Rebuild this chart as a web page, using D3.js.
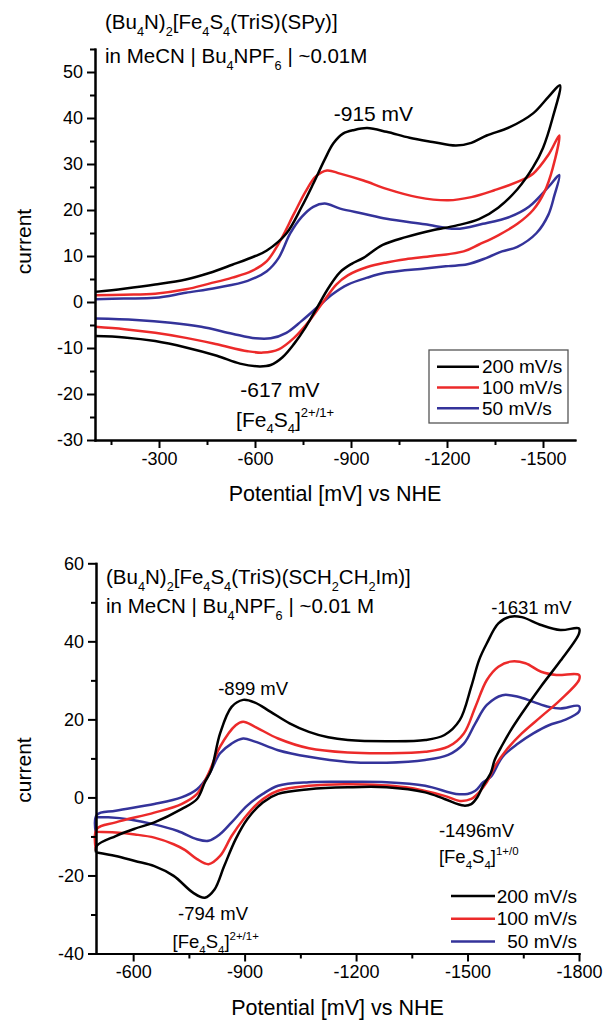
<!DOCTYPE html>
<meta charset="utf-8">
<style>
body { margin: 0; background: #fff; }
svg { font-family: "Liberation Sans", Arial, sans-serif; }
.axis path, .axis line { stroke: #000; stroke-width: 2; }
.axis text { font-size: 18px; fill: #000; }
.cv { fill: none; stroke-width: 2.5; stroke-linejoin: round; }
</style>
<body>
<script src="https://cdn.jsdelivr.net/npm/d3@7"></script>
<script>

// ---- data: [potential mV, current] ----
// top panel, (Bu4N)2[Fe4S4(TriS)(SPy)]
var top200 = [[-100,2.2],[-190,2.9],[-288,3.8],[-384,4.9],[-457,6.3],[-529,8.1],[-601,10],[-637,11.2],[-698,14.9],[-746,20.7],[-782,25.7],[-818,31],[-845,34.5],[-875,36.6],[-910,37.4],[-951,37.8],[-1011,37],[-1083,35.7],[-1155,34.8],[-1228,34],[-1276,34.6],[-1324,36.2],[-1396,38],[-1469,41],[-1517,44.6],[-1553,47.1],
  [-1530,40],[-1500,33.5],[-1469,29.3],[-1420,24.5],[-1360,20.5],[-1300,18],[-1228,16.6],[-1155,15.6],[-1071,14.1],[-999,12.4],[-939,9.6],[-902,8.3],[-866,6.5],[-830,3.1],[-794,-1.2],[-758,-5.5],[-722,-9.1],[-686,-12],[-649,-13.7],[-615,-14],[-553,-13.4],[-481,-11.7],[-384,-9.9],[-288,-8.5],[-192,-7.7],[-100,-7.4]];
var top100 = [[-100,1.45],[-190,1.6],[-288,1.8],[-384,2.75],[-457,4],[-529,5.3],[-589,6.7],[-637,8.9],[-674,12.7],[-722,19.2],[-758,24],[-790,27.3],[-825,28.6],[-866,27.9],[-939,26.4],[-1011,24.6],[-1107,22.8],[-1204,22.1],[-1276,22.8],[-1348,24.3],[-1420,26.1],[-1469,27.9],[-1517,32],[-1551,36.2],
  [-1530,29],[-1505,24],[-1469,20],[-1420,17],[-1360,14.5],[-1300,12.5],[-1252,11],[-1155,10],[-1071,9.3],[-1011,8.6],[-951,7.6],[-890,5.8],[-854,3.8],[-818,0.5],[-770,-4.1],[-722,-7.8],[-674,-10.3],[-625,-11],[-577,-10.7],[-481,-9.2],[-384,-7.8],[-288,-6.7],[-192,-5.9],[-100,-5.4]];
var top50 = [[-100,0.6],[-190,0.75],[-288,0.9],[-384,2],[-481,3.1],[-577,4.6],[-637,6.7],[-674,9.6],[-710,14.9],[-746,18.5],[-782,20.7],[-818,21.4],[-866,20.3],[-939,19.2],[-1011,18.1],[-1131,16.9],[-1228,15.9],[-1312,17],[-1396,18.5],[-1456,20.7],[-1517,25],[-1551,27.6],
  [-1535,23],[-1517,19],[-1480,15],[-1420,12],[-1372,11],[-1324,9.6],[-1264,8.2],[-1204,7.8],[-1131,7.3],[-1011,6.4],[-951,5.3],[-890,3.8],[-842,1.7],[-794,-1.2],[-746,-4.1],[-698,-6.7],[-649,-7.9],[-601,-7.9],[-529,-6.9],[-432,-5.4],[-336,-4.5],[-228,-3.9],[-100,-3.6]];

// bottom panel, (Bu4N)2[Fe4S4(TriS)(SCH2CH2Im)]
var bot200 = [[-500,-14.1],[-502,-12.4],[-553,-9.9],[-605,-8],[-657,-6.4],[-730,-3],[-772,-0.4],[-793,3.9],[-810,7],[-834,16.4],[-865,23.2],[-896,25],[-928,24.3],[-969,22],[-1021,19],[-1073,16.8],[-1125,15.4],[-1178,14.7],[-1282,14.4],[-1386,14.7],[-1438,16],[-1479,19.8],[-1510,28.4],[-1531,35.2],[-1552,39.5],[-1583,44.6],[-1615,46.3],[-1646,46.2],[-1698,44.2],[-1750,42.9],[-1800,43.3],
  [-1800,42],[-1750,35],[-1698,28.5],[-1646,21.5],[-1615,17],[-1594,13.5],[-1573,9.6],[-1563,6.4],[-1542,3],[-1526,0],[-1510,-1.7],[-1490,-2.1],[-1438,-0.4],[-1386,1.3],[-1282,2.6],[-1178,2.6],[-1073,2.1],[-990,0.9],[-949,-1.3],[-907,-5.6],[-876,-10.7],[-845,-17.6],[-819,-23.6],[-793,-25.7],[-761,-24.4],[-709,-20.1],[-657,-17.6],[-605,-16.3],[-553,-15],[-502,-14.1]];
var bot100 = [[-500,-13.7],[-502,-8.1],[-553,-6.4],[-657,-3.9],[-730,-1.7],[-772,0.9],[-803,6.2],[-834,13],[-876,18.5],[-896,19.4],[-928,18.1],[-990,15.1],[-1073,12.6],[-1178,11.5],[-1282,11.3],[-1386,11.7],[-1448,13],[-1490,16.4],[-1521,23.2],[-1552,30.1],[-1583,33.5],[-1615,34.8],[-1656,34.4],[-1698,32.2],[-1739,31.4],[-1800,31.4],
  [-1800,30.1],[-1750,25],[-1698,20.7],[-1646,16.4],[-1604,12.1],[-1573,7.9],[-1552,3.9],[-1531,1.3],[-1510,-0.4],[-1479,-0.9],[-1438,0.4],[-1334,2.6],[-1178,3.4],[-1073,3],[-990,1.7],[-938,-1.3],[-897,-5.6],[-865,-9.9],[-834,-15],[-803,-17.1],[-772,-15.8],[-740,-13.5],[-709,-12],[-657,-10.3],[-605,-9.5],[-553,-9],[-502,-8.8]];
var bot50 = [[-500,-9.5],[-502,-4.5],[-553,-3.4],[-657,-1.7],[-730,0],[-772,2.1],[-803,5.7],[-834,11.3],[-865,13.8],[-896,15.1],[-928,14.3],[-990,12.1],[-1073,10.4],[-1178,9.1],[-1282,8.9],[-1386,9.6],[-1448,10.9],[-1490,13.8],[-1521,19],[-1552,23.7],[-1594,26.2],[-1636,25.8],[-1677,24.5],[-1719,23.2],[-1750,22.8],[-1800,23.4],
  [-1800,22],[-1760,19.8],[-1719,18.5],[-1677,16.4],[-1636,13.8],[-1594,10.4],[-1563,5.3],[-1542,3.9],[-1521,1.7],[-1500,0.9],[-1469,0.9],[-1386,3],[-1282,3.9],[-1178,4],[-1073,3.9],[-990,3],[-949,0.9],[-907,-2.1],[-865,-6.4],[-834,-9.4],[-803,-11.1],[-772,-10.7],[-720,-8.6],[-657,-6.9],[-595,-5.7],[-533,-5.1],[-502,-5.1]];

var rates = ["200 mV/s", "100 mV/s", "50 mV/s"];
var colors = ["#000000", "#ec2a2a", "#34339a"];

// ticks
var topXMajor = [-300, -600, -900, -1200, -1500];
var topXMinor = [-150, -450, -750, -1050, -1350];
var topYMajor = [-30, -20, -10, 0, 10, 20, 30, 40, 50];
var topYMinor = [-25, -15, -5, 5, 15, 25, 35, 45, 55];
var botXMajor = [-600, -900, -1200, -1500, -1800];
var botXMinor = [-750, -1050, -1350, -1650];
var botYMajor = [-40, -20, 0, 20, 40, 60];
var botYMinor = [-30, -10, 10, 30, 50];

// annotations [potential, current, text, anchor]
var topNotes = [[-970, 39.4, "-915 mV", "middle"], [-678, -20.6, "-617 mV", "middle"], [-541, -27.1, "[Fe_{4}S_{4}]^{2+/1+}", "start"]];
var botNotes = [[-923, 26.2, "-899 mV", "middle"], [-1672, 47, "-1631 mV", "middle"], [-1524, -10.1, "-1496mV", "middle"],
  [-1423, -16.9, "[Fe_{4}S_{4}]^{1+/0}", "start"], [-721, -31.5, "-794 mV", "start"], [-706, -38.7, "[Fe_{4}S_{4}]^{2+/1+}", "start"]];

var svg = d3.select("body").append("svg")
    .attr("width", 607)
    .attr("height", 1020);

// text with _{sub} and ^{sup}
function rich(t, str, size) {
  var parts = str.split(/(_\{[^}]*\}|\^\{[^}]*\})/).filter(function(s) { return s; });
  var cur = 0;
  parts.forEach(function(p) {
    var off = 0, txt = p, fs = size;
    if (p[0] == "_") { off = size * 0.32; txt = p.slice(2, -1); fs = size * 0.62; }
    else if (p[0] == "^") { off = -size * 0.45; txt = p.slice(2, -1); fs = size * 0.62; }
    t.append("tspan").attr("dy", off - cur).attr("font-size", fs).text(txt);
    cur = off;
  });
}

function panel(o) {
  var x = d3.scaleLinear().domain(o.xd).range(o.xr);
  var y = d3.scaleLinear().domain(o.yd).range(o.yr);
  var g = svg.append("g");

  var line = d3.line()
      .x(function(d) { return x(d[0]); })
      .y(function(d) { return y(d[1]); })
      .curve(d3.curveCatmullRom.alpha(0.5));

  // blue first, black on top
  [2, 1, 0].forEach(function(i) {
    g.append("path").attr("class", "cv")
      .attr("d", line(o.series[i]))
      .attr("stroke", colors[i]);
  });

  var fmt = function(d) { return String(d); };
  g.append("g").attr("class", "axis")
      .attr("transform", "translate(0," + o.yr[0] + ")")
      .call(d3.axisBottom(x).tickValues(o.xMinor).tickSize(5).tickSizeOuter(0).tickFormat(""));
  g.append("g").attr("class", "axis")
      .attr("transform", "translate(0," + o.yr[0] + ")")
      .call(d3.axisBottom(x).tickValues(o.xMajor).tickSize(8).tickSizeOuter(0).tickPadding(4).tickFormat(fmt));
  g.append("g").attr("class", "axis")
      .attr("transform", "translate(" + o.xr[0] + ",0)")
      .call(d3.axisLeft(y).tickValues(o.yMinor).tickSize(5).tickSizeOuter(0).tickFormat(""));
  g.append("g").attr("class", "axis")
      .attr("transform", "translate(" + o.xr[0] + ",0)")
      .call(d3.axisLeft(y).tickValues(o.yMajor).tickSize(8).tickSizeOuter(0).tickPadding(4).tickFormat(fmt));
  g.selectAll(".axis .domain").attr("stroke-linecap", "square");

  // axis titles
  g.append("text")
      .attr("x", (o.xr[0] + o.xr[1]) / 2)
      .attr("y", o.yr[0] + 61)
      .attr("text-anchor", "middle")
      .attr("font-size", 21.5)
      .text("Potential [mV] vs NHE");
  g.append("text")
      .attr("transform", "translate(31," + o.ylabelY + ") rotate(-90)")
      .attr("text-anchor", "middle")
      .attr("font-size", 21)
      .text("current");

  // compound name and conditions
  o.title.forEach(function(s, i) {
    rich(g.append("text").attr("x", o.xr[0] + 10).attr("y", o.titleY[i]), s, 20.5);
  });

  o.notes.forEach(function(n) {
    rich(g.append("text")
        .attr("x", x(n[0]))
        .attr("y", y(n[1]))
        .attr("text-anchor", n[3]), n[2], o.noteSize);
  });
  return {x: x, y: y, g: g};
}

var p1 = panel({
  xd: [-100, -1600], xr: [95, 575],
  yd: [-30, 55], yr: [440, 49],
  series: [top200, top100, top50],
  xMajor: topXMajor, xMinor: topXMinor, yMajor: topYMajor, yMinor: topYMinor,
  title: ["(Bu_{4}N)_{2}[Fe_{4}S_{4}(TriS)(SPy)]", "in MeCN | Bu_{4}NPF_{6} | ~0.01M"],
  titleY: [29, 63], ylabelY: 241.5,
  notes: topNotes, noteSize: 21
});

var p2 = panel({
  xd: [-500, -1800], xr: [96, 579],
  yd: [-40, 60], yr: [953.5, 563.3],
  series: [bot200, bot100, bot50],
  xMajor: botXMajor, xMinor: botXMinor, yMajor: botYMajor, yMinor: botYMinor,
  title: ["(Bu_{4}N)_{2}[Fe_{4}S_{4}(TriS)(SCH_{2}CH_{2}Im)]", "in MeCN | Bu_{4}NPF_{6} | ~0.01 M"],
  titleY: [584, 613], ylabelY: 770,
  notes: botNotes, noteSize: 18.5
});

// legend, top panel (boxed)
var lg1 = p1.g.append("g");
lg1.append("rect").attr("x", 429).attr("y", 350).attr("width", 139).attr("height", 73)
    .attr("fill", "#fff").attr("stroke", "#555").attr("stroke-width", 1.3);
rates.forEach(function(r, i) {
  var yy = 366.7 + i * 20.8;
  lg1.append("line").attr("x1", 437).attr("x2", 479).attr("y1", yy).attr("y2", yy)
      .attr("stroke", colors[i]).attr("stroke-width", 2.5);
  lg1.append("text").attr("x", 482).attr("y", yy + 6.5).attr("font-size", 19).text(r);
});

// legend, bottom panel
var lg2 = p2.g.append("g");
rates.forEach(function(r, i) {
  var yy = 896 + i * 22.8;
  lg2.append("line").attr("x1", 451).attr("x2", 495).attr("y1", yy).attr("y2", yy)
      .attr("stroke", colors[i]).attr("stroke-width", 2.5);
  lg2.append("text").attr("x", 577).attr("y", yy + 6.5).attr("text-anchor", "end")
      .attr("font-size", 19).text(r);
});

</script>
</body>
